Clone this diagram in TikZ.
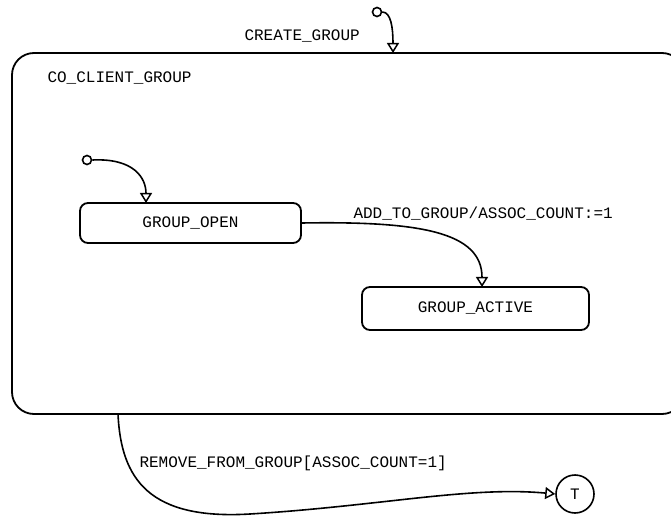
\documentclass[tikz,border=0pt]{standalone}
\usepackage{fontspec}
\setmonofont{Liberation Mono}
\usepackage{tikz}
\usetikzlibrary{arrows.meta}

\tikzset{
    state/.style={draw, line width=1.8pt, rounded corners=8pt, font=\ttfamily\fontsize{16}{19}\selectfont},
    initial/.style={draw, circle, line width=1.6pt, minimum size=9pt, inner sep=0pt},
    trans/.style={line width=1.6pt, -{Triangle[open, length=10pt, width=12pt, line width=1.5pt]}},
    lbl/.style={anchor=west, font=\ttfamily\fontsize{16}{19}\selectfont}
}

\begin{document}
\begin{tikzpicture}[x=1pt, y=-1pt]
        \useasboundingbox (0,0) rectangle (671,518);

        % Draw the composite state
        \node[state, rounded corners=22pt, minimum width=672pt, minimum height=361pt] (group) at (348,233.5) {};
        \node[lbl] (grouplbl) at (44,78) {CO\_CLIENT\_GROUP};

        % Draw the inner states
        \node[state, minimum width=221pt, minimum height=40pt] (open) at (190.5,223) {GROUP\_OPEN};
        \node[state, minimum width=227pt, minimum height=43pt] (active) at (475.5,308.5) {GROUP\_ACTIVE};

        % Initial and final points
        \node[initial] (init0) at (377,12) {};
        \node[initial] (init1) at (87,160) {};
        \node[draw, circle, line width=1.6pt, minimum size=38pt, inner sep=0pt, font=\ttfamily\fontsize{16}{19}\selectfont] (final) at (575,494) {T};

        % Points where the connectors meet the boxes
        \coordinate (createin) at (393,53);
        \coordinate (openin) at (146,203);
        \coordinate (activein) at (482,287);
        \coordinate (groupout) at (118,414);

        % Draw the transitions
        \draw[trans] (init0.east) .. controls (391,12) and (393,28) .. (createin);
        \node[lbl] (createlbl) at (241,36) {CREATE\_GROUP};

        \draw[trans] (init1.east) .. controls (134,158) and (146,178) .. (openin);

        \draw[trans] (open.east) .. controls (420,221) and (482,232) .. (activein);
        \node[lbl] (addlbl) at (350,214) {ADD\_TO\_GROUP/ASSOC\_COUNT:=1};

        \draw[trans] (groupout) .. controls (121,480) and (150,520) .. (250,514) .. controls (380,506) and (470,486) .. (final.west);
        \node[lbl] (removelbl) at (136,463) {REMOVE\_FROM\_GROUP[ASSOC\_COUNT=1]};
    \end{tikzpicture}
\end{document}
